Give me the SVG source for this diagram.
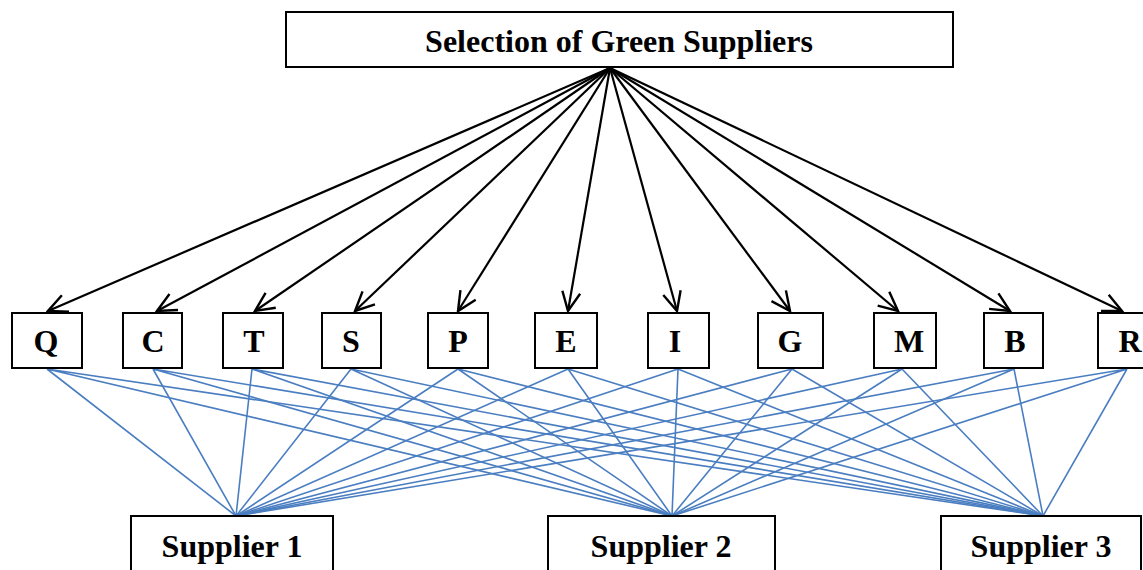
<svg xmlns="http://www.w3.org/2000/svg" width="1143" height="570" viewBox="0 0 1143 570">
<style>
.box{fill:#fff;stroke:#000;stroke-width:2}
.t{font-family:"Liberation Serif","Times New Roman",serif;font-weight:bold;font-size:32px;text-anchor:middle;fill:#000}
.arr{stroke:#000;stroke-width:2.2;fill:none;marker-end:url(#ah)}
.bl{stroke:#4A7EC1;stroke-width:1.6;fill:none}
</style>
<defs>
<marker id="ah" viewBox="0 0 24 24" refX="22" refY="12" markerWidth="24" markerHeight="24" markerUnits="userSpaceOnUse" orient="auto">
<path d="M3,3 L22,12 L3,21" fill="none" stroke="#000" stroke-width="2.4"/>
</marker>
</defs>
<g id="connectors">
<g id="arrows">
<line class="arr" x1="610" y1="68" x2="48" y2="311"/>
<line class="arr" x1="610" y1="68" x2="157" y2="311"/>
<line class="arr" x1="610" y1="68" x2="255" y2="311"/>
<line class="arr" x1="610" y1="68" x2="355" y2="311"/>
<line class="arr" x1="610" y1="68" x2="458" y2="311"/>
<line class="arr" x1="610" y1="68" x2="568" y2="311"/>
<line class="arr" x1="610" y1="68" x2="677" y2="311"/>
<line class="arr" x1="610" y1="68" x2="790" y2="311"/>
<line class="arr" x1="610" y1="68" x2="898" y2="311"/>
<line class="arr" x1="610" y1="68" x2="1010" y2="311"/>
<line class="arr" x1="610" y1="68" x2="1122" y2="311"/>
</g>
<g id="links">
<path class="bl" d="M47,369 L236,516 M47,369 L672,516 M47,369 L1043,516"/>
<path class="bl" d="M153,369 L236,516 M153,369 L672,516 M153,369 L1043,516"/>
<path class="bl" d="M252,369 L236,516 M252,369 L672,516 M252,369 L1043,516"/>
<path class="bl" d="M351,369 L236,516 M351,369 L672,516 M351,369 L1043,516"/>
<path class="bl" d="M458,369 L236,516 M458,369 L672,516 M458,369 L1043,516"/>
<path class="bl" d="M568,369 L236,516 M568,369 L672,516 M568,369 L1043,516"/>
<path class="bl" d="M678,369 L236,516 M678,369 L672,516 M678,369 L1043,516"/>
<path class="bl" d="M792,369 L236,516 M792,369 L672,516 M792,369 L1043,516"/>
<path class="bl" d="M902,369 L236,516 M902,369 L672,516 M902,369 L1043,516"/>
<path class="bl" d="M1014,369 L236,516 M1014,369 L672,516 M1014,369 L1043,516"/>
<path class="bl" d="M1127,369 L236,516 M1127,369 L672,516 M1127,369 L1043,516"/>
</g>
</g>
<g id="top"><rect class="box" x="286" y="12" width="667" height="55"/><text class="t" x="619" y="52">Selection of Green Suppliers</text></g>
<g id="Q"><rect class="box" x="12" y="313" width="70" height="55"/><text class="t" x="46" y="352">Q</text></g>
<g id="C"><rect class="box" x="123" y="313" width="59" height="55"/><text class="t" x="153" y="352">C</text></g>
<g id="T"><rect class="box" x="223" y="313" width="60" height="55"/><text class="t" x="254" y="352">T</text></g>
<g id="S"><rect class="box" x="322" y="313" width="59" height="55"/><text class="t" x="351" y="352">S</text></g>
<g id="P"><rect class="box" x="428" y="313" width="60" height="55"/><text class="t" x="458" y="352">P</text></g>
<g id="E"><rect class="box" x="535" y="313" width="62" height="55"/><text class="t" x="566" y="352">E</text></g>
<g id="I"><rect class="box" x="648" y="313" width="61" height="55"/><text class="t" x="675" y="352">I</text></g>
<g id="G"><rect class="box" x="758" y="313" width="65" height="55"/><text class="t" x="790" y="352">G</text></g>
<g id="M"><rect class="box" x="874" y="313" width="62" height="55"/><text class="t" x="909" y="352">M</text></g>
<g id="B"><rect class="box" x="984" y="313" width="59" height="55"/><text class="t" x="1015" y="352">B</text></g>
<g id="R"><rect class="box" x="1098" y="313" width="60" height="55"/><text class="t" x="1130" y="352">R</text></g>
<g id="S1"><rect class="box" x="131" y="516" width="202" height="60"/><text class="t" x="232" y="557">Supplier 1</text></g>
<g id="S2"><rect class="box" x="548" y="516" width="227" height="60"/><text class="t" x="661" y="557">Supplier 2</text></g>
<g id="S3"><rect class="box" x="941" y="516" width="200" height="60"/><text class="t" x="1041" y="557">Supplier 3</text></g>
</svg>
